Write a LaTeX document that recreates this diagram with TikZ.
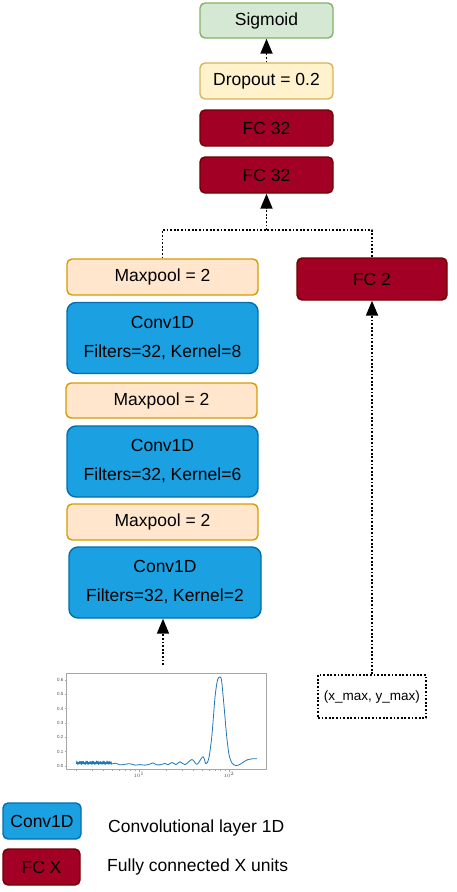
\documentclass[tikz,border=0pt]{standalone}
\usepackage{fontspec}
\setmainfont{Liberation Sans}
\usetikzlibrary{arrows.meta}
\definecolor{convfill}{HTML}{1BA1E2}\definecolor{convline}{HTML}{006EAF}
\definecolor{poolfill}{HTML}{FFE6CC}\definecolor{poolline}{HTML}{D79B00}
\definecolor{dropfill}{HTML}{FFF2CC}\definecolor{dropline}{HTML}{D6B656}
\definecolor{sigfill}{HTML}{D5E8D4}\definecolor{sigline}{HTML}{82B366}
\definecolor{fcfill}{HTML}{A20025}\definecolor{fcline}{HTML}{6F0000}
\definecolor{curve}{HTML}{1F77B4}
\begin{document}
\begin{tikzpicture}[x=1pt,y=-1pt, line join=round,
	font=\fontsize{17.5}{29}\selectfont,
	box/.style={draw, rounded corners=5pt, line width=1.4pt, inner sep=0pt, align=center, minimum height=36pt},
	conv/.style={box, fill=convfill, draw=convline, rounded corners=9pt, minimum width=191pt, minimum height=71pt},
	pool/.style={box, fill=poolfill, draw=poolline, minimum width=191pt},
	fc/.style={box, fill=fcfill, draw=fcline},
	drop/.style={box, fill=dropfill, draw=dropline, minimum width=133pt},
	sig/.style={box, fill=sigfill, draw=sigline, minimum width=133pt, minimum height=35pt},
	link/.style={line width=1.8pt, dash pattern=on 1.8pt off 1.8pt},
	tip/.style={-{Triangle[width=12pt,length=15pt]}}]
	\useasboundingbox (0,0) rectangle (457,892);
	\def\yz{766} \def\ys{143.3}
	% head
	\node[sig] (sigmoid) at (266.5,20.5) {Sigmoid};
	\node[drop] (dropout) at (266.5,81) {Dropout = 0.2};
	\node[fc, minimum width=133pt] (fcA) at (266.5,128) {FC 32};
	\node[fc, minimum width=133pt] (fcB) at (266.5,175) {FC 32};
	% conv branch
	\node[pool] (pool1) at (162.5,277) {Maxpool = 2};
	\node[conv] (conv1) at (162.5,338) {Conv1D\\Filters=32, Kernel=8};
	\node[pool, minimum height=35pt] (pool2) at (161.5,400.5) {Maxpool = 2};
	\node[conv] (conv2) at (162.5,461.5) {Conv1D\\Filters=32, Kernel=6};
	\node[pool] (pool3) at (162.5,522) {Maxpool = 2};
	\node[conv, minimum width=192pt] (conv3) at (165,582.5) {Conv1D\\Filters=32, Kernel=2};
	% max branch
	\node[fc, minimum width=150pt, minimum height=42pt] (fc2) at (372,279) {FC 2};
	\node[draw, link, minimum width=108pt, minimum height=43pt, font=\fontsize{13.5}{16}\selectfont] (xy) at (372,696.5) {(x\_max, y\_max)};
	% connectors
	\coordinate (join) at (266.5,230);
	\coordinate (plottop) at (163,665);
	\draw[link] (pool1.north) |- (join) -| (fc2.north);
	\draw[link, tip] (join) -- (fcB.south);
	\draw[link, tip] (dropout.north) -- (sigmoid.south);
	\draw[link, tip] (xy.north) -- (fc2.south);
	\draw[link, tip] (plottop) -- (plottop |- conv3.south);
	% input spectrum
	\draw[gray!70, line width=0.6pt] (66.7,673) rectangle (266.7,769);
	\foreach \v in {0,...,6}
	\draw[gray!70, line width=0.4pt] (66.7,\yz-\ys*\v/10) -- +(-2,0) node[left, inner sep=1pt, black!70, font=\fontsize{4.5}{5}\selectfont] {0.\v};
	\foreach \x/\e in {139/1,229/2}
	\draw[gray!70, line width=0.4pt] (\x,769) -- +(0,2.5) node[below, inner sep=1pt, black!70, font=\fontsize{5}{6}\selectfont] {$10^{\e}$};
	\foreach \m in {2,...,9}
	\draw[gray!70, line width=0.3pt] ({139-90+90*log10(\m)},769) -- +(0,1.5) ({139+90*log10(\m)},769) -- +(0,1.5);
	\draw[curve, line width=0.8pt] plot[domain=76:112, samples=90] (\x,{\yz-\ys*(0.008+0.02*abs(sin(\x*137))^3+0.008*abs(sin(\x*53)))})
		-- plot[smooth] coordinates {(116,\yz-\ys*0.02) (120,\yz-\ys*0.008) (125,\yz-\ys*0.012) (130,\yz-\ys*0.016) (135,\yz-\ys*0.006)
		(140,\yz-\ys*0.01) (145,\yz-\ys*0.006) (150,\yz-\ys*0.014) (153,\yz-\ys*0.022) (156,\yz-\ys*0.01) (160,\yz-\ys*0.008)
		(165,\yz-\ys*0.018) (168,\yz-\ys*0.008) (172,\yz-\ys*0.025) (176,\yz-\ys*0.01) (180,\yz-\ys*0.03) (185,\yz-\ys*0.01)
		(192,\yz-\ys*0.045) (197,\yz-\ys*0.012) (203,\yz-\ys*0.065) (206,\yz-\ys*0.015) (209,\yz-\ys*0.06) (212,\yz-\ys*0.22)
		(215,\yz-\ys*0.48) (217.5,\yz-\ys*0.6) (219.5,\yz-\ys*0.62) (221.5,\yz-\ys*0.6) (224,\yz-\ys*0.42) (226.5,\yz-\ys*0.22)
		(229,\yz-\ys*0.08) (232,\yz-\ys*0.02) (236,\yz-\ys*0.003) (240,\yz-\ys*0.012) (244,\yz-\ys*0.03) (248,\yz-\ys*0.045)
		(252,\yz-\ys*0.05) (257,\yz-\ys*0.05)};
	% legend
	\node[conv, minimum width=78pt, minimum height=36pt, rounded corners=5pt] (keyconv) at (42,821) {Conv1D};
	\node[fc, minimum width=77pt] (keyfc) at (41.5,867) {FC X};
	\node[anchor=west, inner sep=0pt] (keyconvtext) at (108,828) {Convolutional layer 1D};
	\node[anchor=west, inner sep=0pt] (keyfctext) at (107,867) {Fully connected X units};
\end{tikzpicture}
\end{document}
